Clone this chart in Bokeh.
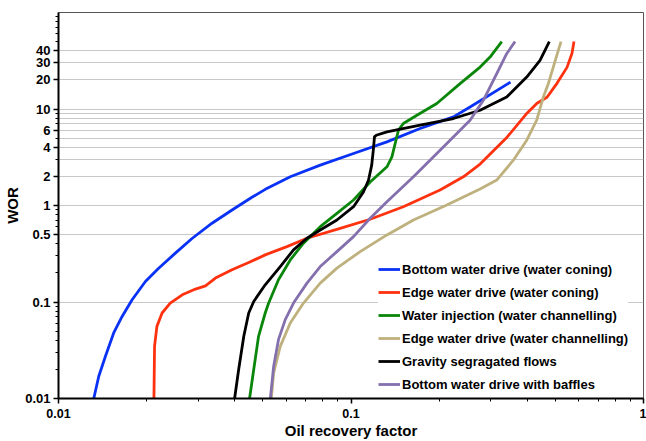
from bokeh.plotting import figure
from bokeh.models import FixedTicker, Legend, LegendItem, Range1d
from bokeh.embed import file_html
from bokeh.resources import INLINE

# ---- data ----
names = [
    "Bottom water drive (water coning)",
    "Edge water drive (water coning)",
    "Water injection (water channelling)",
    "Edge water drive (water channelling)",
    "Gravity segragated flows",
    "Bottom water drive with baffles",
]
colors = ["#0a32f5", "#ff3210", "#0a870a", "#bfb17e", "#000000", "#8570ae"]

blue_x = [0.0132, 0.01373, 0.01447, 0.01544, 0.0165, 0.01785, 0.01982, 0.022,
          0.02509, 0.02861, 0.03349, 0.0392, 0.04586, 0.05093, 0.062, 0.0785,
          0.102, 0.1327, 0.1723, 0.2239, 0.2553, 0.351]
blue_y = [0.01, 0.017, 0.0274, 0.0478, 0.0709, 0.1055, 0.163, 0.224, 0.321, 0.455,
          0.655, 0.899, 1.216, 1.47, 1.985, 2.62, 3.46, 4.56, 6.28, 8.28, 10.5, 19]

red_x = [0.0212, 0.0213, 0.0217, 0.0226, 0.0241, 0.0265, 0.0294, 0.0318, 0.0344,
         0.0392, 0.0447, 0.0509, 0.0604, 0.0707, 0.0918, 0.1163, 0.151, 0.2016,
         0.2422, 0.2763, 0.3416, 0.3997, 0.4325, 0.4679, 0.506, 0.5477, 0.5695,
         0.5785]
red_y = [0.01, 0.0347, 0.0559, 0.0769, 0.0975, 0.1188, 0.1361, 0.1472, 0.1768,
         0.2154, 0.2563, 0.3078, 0.375, 0.458, 0.58, 0.72, 0.972, 1.446, 1.985,
         2.685, 5.1, 9.04, 11.47, 13.22, 18.45, 27.0, 37.7, 50]

green_x = [0.045, 0.0465, 0.0483, 0.0509, 0.0523, 0.0565, 0.062, 0.0688, 0.0785,
           0.0895, 0.102, 0.1163, 0.1327, 0.138, 0.1416, 0.1453, 0.151, 0.168,
           0.1965, 0.236, 0.2763, 0.2988, 0.3277]
green_y = [0.01, 0.02, 0.0441, 0.0769, 0.0975, 0.17, 0.273, 0.407, 0.604, 0.83,
           1.14, 1.75, 2.52, 3.19, 4.39, 6.03, 7.07, 8.62, 11.4, 18.3, 27.2, 34.5,
           50]

tan_x = [0.0534, 0.0544, 0.0573, 0.062, 0.0688, 0.0785, 0.0895, 0.1075, 0.1327,
         0.1635, 0.2126, 0.2763, 0.315, 0.359, 0.3988, 0.4314, 0.4545, 0.4727,
         0.4916, 0.5113, 0.5224]
tan_y = [0.01, 0.0184, 0.0347, 0.0606, 0.0975, 0.157, 0.2244, 0.333, 0.4955, 0.708,
         1.012, 1.48, 1.835, 2.95, 4.75, 7.65, 13.3, 18.3, 27.2, 40.5, 50]

black_x = [0.0400, 0.0413, 0.0430, 0.0447, 0.0465, 0.0509, 0.0573, 0.0636, 0.0707,
           0.0785, 0.0895, 0.102, 0.1103, 0.1148, 0.1177, 0.1192, 0.1203, 0.122,
           0.1327, 0.1723, 0.2239, 0.2763, 0.3406, 0.3988, 0.4428, 0.4764]
black_y = [0.01, 0.02, 0.0441, 0.0769, 0.1013, 0.1508, 0.233, 0.347, 0.458, 0.558,
           0.708, 0.972, 1.379, 1.835, 2.62, 3.75, 5.14, 5.35, 5.79, 6.79, 7.97,
           9.71, 13.3, 21.4, 31.9, 50]

purple_x = [0.053, 0.0544, 0.0565, 0.0596, 0.0636, 0.0707, 0.0785, 0.0895, 0.102,
            0.1163, 0.1327, 0.1635, 0.1965, 0.236, 0.2553, 0.2835, 0.315, 0.3406,
            0.3638]
purple_y = [0.01, 0.0216, 0.0407, 0.0656, 0.0975, 0.157, 0.233, 0.333, 0.476, 0.737,
            1.095, 1.985, 3.46, 6.03, 7.65, 12.3, 23.3, 37.4, 50]

series_x = [blue_x, red_x, green_x, tan_x, black_x, purple_x]
series_y = [blue_y, red_y, green_y, tan_y, black_y, purple_y]

x_ticks = [0.01, 0.1, 1]
x_tick_labels = ["0.01", "0.1", "1"]
x_minor = [k * 0.01 for k in range(2, 10)] + [k * 0.1 for k in range(2, 10)]

y_ticks = [0.01, 0.1, 0.5, 1, 2, 4, 6, 10, 20, 30, 40]
y_tick_labels = ["0.01", "0.1", "0.5", "1", "2", "4", "6", "10", "20", "30", "40"]
y_minor = ([k * 0.01 for k in range(2, 10)] + [k * 0.1 for k in range(2, 10)] +
           [k * 1.0 for k in range(2, 10)] + [k * 10.0 for k in range(2, 10)])
y_grid = [0.1, 0.5, 1, 2, 3, 4, 5, 6, 7, 8, 9, 10, 20, 30, 40]

FONT = "Liberation Sans"

p = figure(width=646, height=441, x_axis_type="log", y_axis_type="log",
           x_range=Range1d(0.01, 1), y_range=Range1d(0.01, 100),
           output_backend="svg", toolbar_location=None,
           min_border_left=58, min_border_right=3, min_border_top=12,
           min_border_bottom=42)

p.background_fill_color = "white"
p.border_fill_color = "white"
p.outline_line_color = "#555555"
p.outline_line_width = 1

p.xgrid.visible = False
p.ygrid.ticker = FixedTicker(ticks=y_grid)
p.ygrid.grid_line_color = "#c8c8c8"
p.ygrid.grid_line_width = 1.2

p.xaxis.ticker = FixedTicker(ticks=x_ticks, minor_ticks=x_minor)
p.xaxis.major_label_overrides = {t: l for t, l in zip(x_ticks, x_tick_labels)}
p.yaxis.ticker = FixedTicker(ticks=y_ticks, minor_ticks=y_minor)
p.yaxis.major_label_overrides = {t: l for t, l in zip(y_ticks, y_tick_labels)}

for ax in (p.xaxis, p.yaxis):
    ax.axis_line_color = "black"
    ax.axis_line_width = 2
    ax.major_tick_line_color = "black"
    ax.major_tick_line_width = 1.5
    ax.minor_tick_line_color = "black"
    ax.minor_tick_line_width = 1
    ax.major_tick_out = 5
    ax.major_tick_in = 0
    ax.minor_tick_out = 3
    ax.minor_tick_in = 0
    ax.major_label_text_font = FONT
    ax.major_label_text_font_style = "bold"
    ax.major_label_text_font_size = "13px"
    ax.major_label_text_color = "black"
    ax.axis_label_text_font = FONT
    ax.axis_label_text_font_style = "bold"
    ax.axis_label_text_font_size = "15px"
    ax.axis_label_text_color = "black"

p.xaxis.major_label_text_font_size = "12.5px"
p.xaxis.major_label_standoff = 5
p.xaxis.axis_label_standoff = 1
p.yaxis.major_label_standoff = 3
p.yaxis.axis_label_standoff = 1

p.xaxis.axis_label = "Oil recovery factor"
p.yaxis.axis_label = "WOR"

renderers = []
for xs, ys, c in zip(series_x, series_y, colors):
    r = p.line(xs, ys, line_color=c, line_width=2.8, line_join="round")
    renderers.append(r)

legend = Legend(
    items=[LegendItem(label=n, renderers=[r]) for n, r in zip(names, renderers)],
    location=(320, 4), padding=5, spacing=3, label_height=20, glyph_height=20,
    glyph_width=22, label_standoff=2, margin=0,
    border_line_color=None, background_fill_color="white", background_fill_alpha=1,
    label_text_font=FONT, label_text_font_style="bold", label_text_font_size="13px",
    label_text_color="black",
)
p.add_layout(legend)

open("out.html", "w").write(file_html(p, INLINE))
